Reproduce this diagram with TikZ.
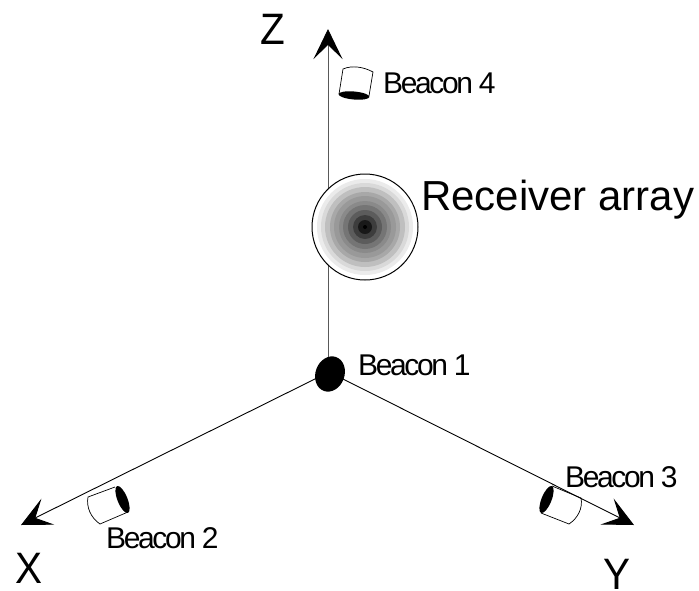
\documentclass[tikz,border=0pt]{standalone}
\usepackage{fontspec}
\setmainfont{Liberation Sans}
\newfontfamily\tightfont[LetterSpace=-8]{Liberation Sans}
\usetikzlibrary{arrows.meta,shapes.geometric}
\tikzset{
  axisline/.style={draw=black,line width=0.9pt,-{Stealth[length=30pt,width=29pt,inset=14pt,color=black]}},
  beaconlabel/.style={anchor=base west,inner sep=0pt,font=\tightfont\fontsize{30}{30}\selectfont},
  axislabel/.style={anchor=base west,inner sep=0pt,font=\fontsize{44}{44}\selectfont},
  arraylabel/.style={anchor=base west,inner sep=0pt,font=\fontsize{42}{42}\selectfont},
  blackcap/.style={ellipse,fill=black,draw=none,inner sep=0pt},
  body/.style={draw=black,line width=0.7pt,fill=white},
}
\begin{document}
\begin{tikzpicture}[x=1pt,y=-1pt]
\useasboundingbox (0,0) rectangle (699,590);
\coordinate (O) at (329,372);
\coordinate (Xtip) at (21,525);
\coordinate (Ytip) at (634,525);
\coordinate (Ztip) at (328,29);
% beacon 2
\draw[body] (115,487) -- (88,497) .. controls (86,507) and (91,518) .. (100,524) -- (128,512);
\node[blackcap,minimum width=29pt,minimum height=10pt,rotate=112] (b2) at (122.5,499.5) {};
% beacon 3
\draw[body] (552,486) -- (581,498) .. controls (583,508) and (578,518) .. (569,524) -- (541,513);
\node[blackcap,minimum width=29pt,minimum height=10pt,rotate=68] (b3) at (546.5,499.5) {};
% beacon 4
\draw[body] (339,94) -- (343,69) .. controls (352,65) and (364,67) .. (373,72) -- (369,96);
\node[blackcap,minimum width=31pt,minimum height=8pt,rotate=-5] (b4) at (354,95.5) {};
% axes
\draw[axisline] (O) -- (Xtip);
\draw[axisline] (O) -- (Ytip);
\draw[axisline,draw=black!65] (328,372) -- (Ztip);
% receiver array
\fill[white] (365,227) circle[radius=53];
\foreach \r/\g in {48/92,44/85,40/75,35/66,31/60,26/54,22/46,17/36,12/24,7/10}
  \fill[black!\the\numexpr100-\g\relax] (365,227) circle[radius=\r];
\node[circle,draw=black,line width=1pt,minimum size=106pt,inner sep=0pt] (array) at (365,227) {};
\fill[black] (365,227) circle[radius=2];
% beacon 1
\node[blackcap,minimum width=29pt,minimum height=36pt,rotate=-20] (b1) at (330,374) {};
% labels
\node[axislabel] (zl) at (260,44) {\scalebox{.92}[1]{Z}};
\node[axislabel] (xl) at (15,583) {\scalebox{.92}[1]{X}};
\node[axislabel] (yl) at (603,589) {\scalebox{.92}[1]{Y}};
\node[arraylabel] (al) at (421,210) {Receiver array};
\node[beaconlabel] (l1) at (358,375) {Beacon 1};
\node[beaconlabel] (l2) at (106,548) {Beacon 2};
\node[beaconlabel] (l3) at (565,487) {Beacon 3};
\node[beaconlabel] (l4) at (383,93) {Beacon 4};
\end{tikzpicture}
\end{document}
